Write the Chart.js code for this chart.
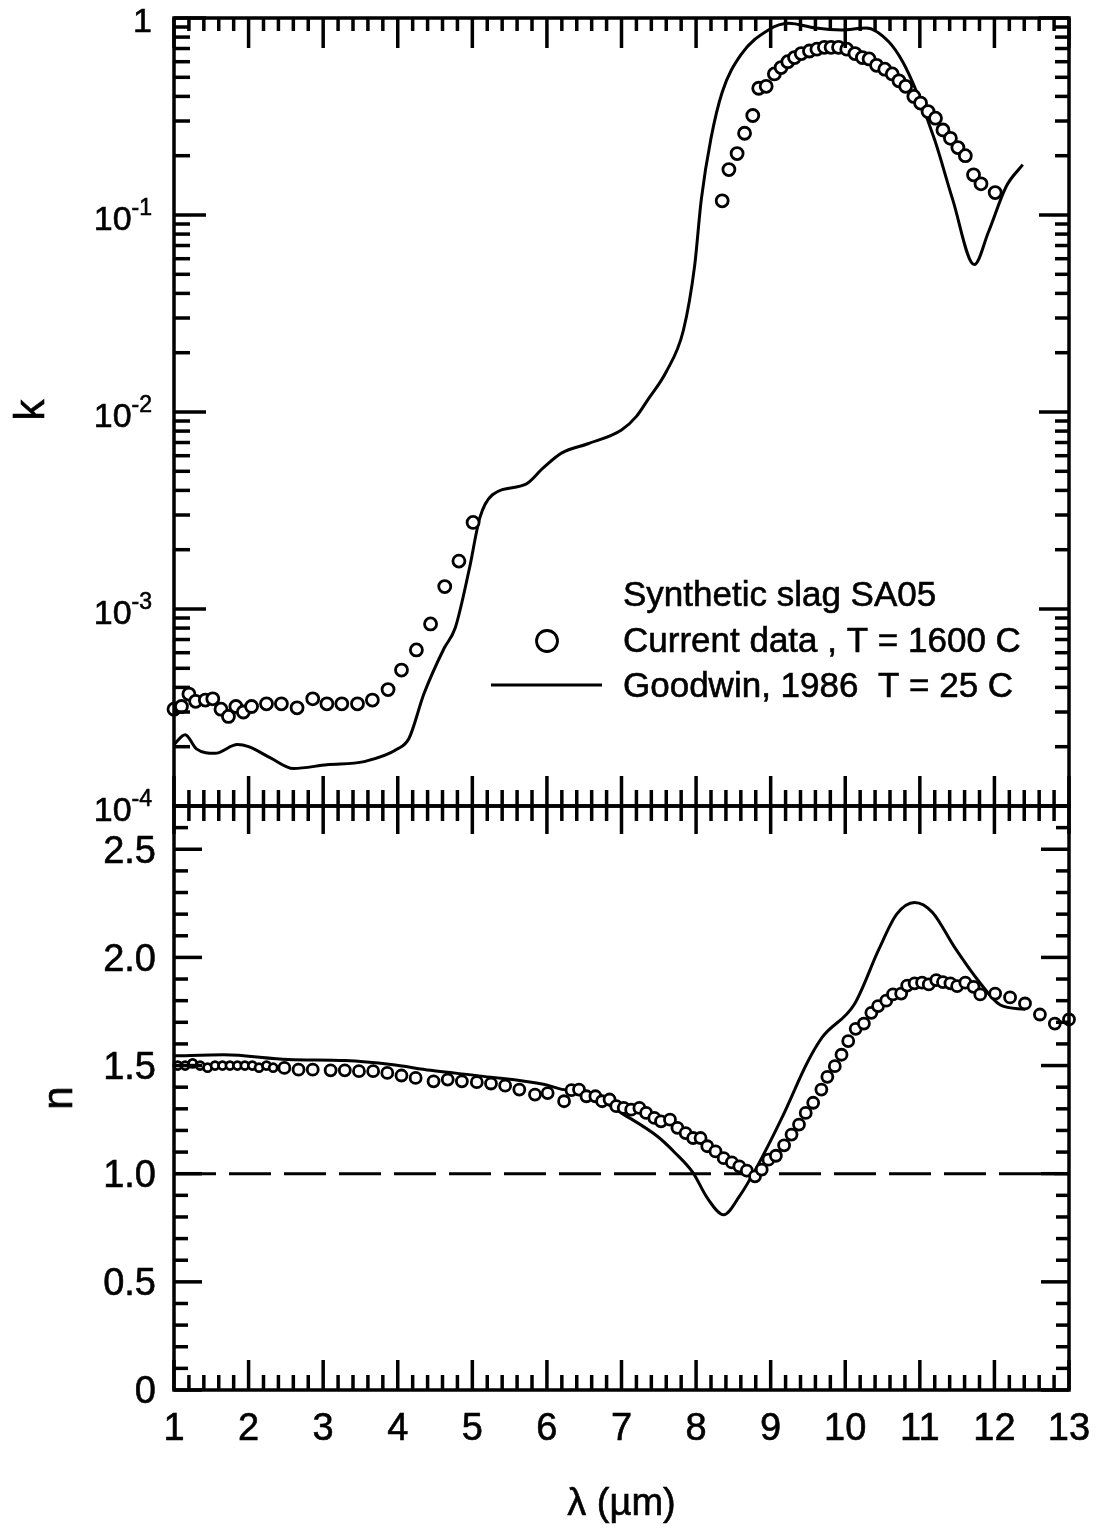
<!DOCTYPE html>
<html>
<head>
<meta charset="utf-8">
<title>Synthetic slag SA05 - optical constants</title>
<script src="https://cdn.jsdelivr.net/npm/chart.js@4.4.1/dist/chart.umd.min.js"></script>
<style>
  html, body { margin: 0; padding: 0; background: #fff; }
  #wrap { position: relative; width: 1111px; height: 1528px; }
  #wrap canvas { position: absolute; left: 0; top: 0; }
</style>
</head>
<body>
<div id="wrap">
  <canvas id="kChart" width="1111" height="1528"></canvas>
  <canvas id="nChart" width="1111" height="1528"></canvas>
</div>
<script>
// wavelength axis (um) and tick labels
const xTicks = [1, 2, 3, 4, 5, 6, 7, 8, 9, 10, 11, 12, 13];
const kTickExps = [0, -1, -2, -3, -4];
const nTicks = [0, 0.5, 1.0, 1.5, 2.0, 2.5];
const nTickLabels = ['0', '0.5', '1.0', '1.5', '2.0', '2.5'];
const legendLines = ['Synthetic slag SA05', 'Current data , T = 1600 C', 'Goodwin, 1986  T = 25 C'];

// k, current data (T = 1600 C)  [lambda, k]
const kCurrent = [
  [1.0, 3.1e-4], [1.1, 3.2e-4], [1.2, 3.7e-4], [1.29, 3.4e-4], [1.42, 3.45e-4], [1.52, 3.5e-4],
  [1.63, 3.1e-4], [1.73, 2.85e-4], [1.83, 3.2e-4], [1.93, 3.0e-4], [2.04, 3.2e-4], [2.24, 3.3e-4],
  [2.44, 3.3e-4], [2.65, 3.15e-4], [2.86, 3.5e-4], [3.05, 3.3e-4], [3.25, 3.3e-4], [3.46, 3.3e-4],
  [3.66, 3.45e-4], [3.87, 3.9e-4], [4.05, 4.9e-4], [4.25, 6.2e-4], [4.44, 8.4e-4], [4.63, 1.3e-3],
  [4.82, 1.75e-3], [5.01, 2.75e-3],
  [8.35, 0.118], [8.44, 0.17], [8.55, 0.205], [8.65, 0.26], [8.76, 0.32], [8.84, 0.44], [8.94, 0.45],
  [9.05, 0.52], [9.14, 0.56], [9.23, 0.60], [9.32, 0.63], [9.41, 0.66], [9.52, 0.68], [9.62, 0.695],
  [9.72, 0.71], [9.81, 0.71], [9.91, 0.71], [10.02, 0.695], [10.13, 0.66], [10.23, 0.63], [10.32, 0.62],
  [10.42, 0.575], [10.53, 0.55], [10.63, 0.52], [10.72, 0.48], [10.81, 0.45], [10.92, 0.40], [11.01, 0.37],
  [11.11, 0.335], [11.21, 0.31], [11.31, 0.27], [11.41, 0.245], [11.51, 0.22], [11.61, 0.20],
  [11.72, 0.16], [11.82, 0.144], [12.01, 0.13]
];

// k, Goodwin 1986 (T = 25 C)
const kGoodwin = [
  [1.0, 2.05e-4], [1.15, 2.3e-4], [1.3, 1.95e-4], [1.55, 1.85e-4], [1.85, 2.05e-4], [2.0, 2.0e-4],
  [2.3, 1.75e-4], [2.6, 1.55e-4], [3.05, 1.62e-4], [3.55, 1.68e-4], [4.0, 1.95e-4], [4.15, 2.2e-4],
  [4.35, 3.7e-4], [4.62, 6.3e-4], [4.77, 8.0e-4], [4.96, 1.6e-3], [5.1, 2.9e-3], [5.27, 3.8e-3],
  [5.72, 4.3e-3], [5.95, 5.2e-3], [6.2, 6.2e-3], [6.55, 6.9e-3], [7.0, 8.1e-3], [7.2, 9.5e-3],
  [7.35, 0.0115], [7.6, 0.016], [7.83, 0.026], [7.98, 0.055], [8.07, 0.12], [8.2, 0.245], [8.35, 0.42],
  [8.6, 0.65], [8.97, 0.87], [9.24, 0.94], [9.6, 0.89], [9.95, 0.87], [10.28, 0.89], [10.58, 0.76],
  [10.77, 0.60], [10.96, 0.42], [11.2, 0.24], [11.44, 0.12], [11.73, 0.056], [11.92, 0.082],
  [12.16, 0.14], [12.38, 0.18]
];

// n, current data
const nCurrent = [
  [1.05, 1.50], [1.15, 1.50], [1.25, 1.51], [1.35, 1.50], [1.45, 1.49], [1.55, 1.50], [1.65, 1.50],
  [1.75, 1.50], [1.85, 1.50], [1.95, 1.50], [2.05, 1.50], [2.14, 1.49], [2.24, 1.50], [2.33, 1.49],
  [2.48, 1.489], [2.67, 1.481], [2.86, 1.481], [3.1, 1.478], [3.29, 1.478], [3.48, 1.474], [3.67, 1.474],
  [3.86, 1.466], [4.05, 1.454], [4.24, 1.443], [4.48, 1.427], [4.67, 1.435], [4.86, 1.427], [5.06, 1.423],
  [5.25, 1.417], [5.44, 1.407], [5.63, 1.389], [5.84, 1.366], [6.01, 1.373], [6.23, 1.335], [6.33, 1.386],
  [6.43, 1.389], [6.53, 1.358], [6.65, 1.358], [6.74, 1.335], [6.84, 1.343], [6.93, 1.312], [7.03, 1.304],
  [7.13, 1.296], [7.24, 1.304], [7.33, 1.281], [7.44, 1.258], [7.53, 1.242], [7.65, 1.25], [7.75, 1.212],
  [7.86, 1.188], [7.96, 1.165], [8.06, 1.165], [8.15, 1.127], [8.26, 1.103], [8.37, 1.072], [8.48, 1.052],
  [8.58, 1.034], [8.68, 1.014], [8.79, 0.988], [8.88, 1.019], [8.97, 1.065], [9.07, 1.083], [9.18, 1.131],
  [9.28, 1.181], [9.38, 1.227], [9.47, 1.281], [9.57, 1.328], [9.68, 1.389], [9.76, 1.448], [9.86, 1.497],
  [9.95, 1.55], [10.04, 1.613], [10.14, 1.67], [10.25, 1.694], [10.35, 1.744], [10.44, 1.775], [10.55, 1.80],
  [10.64, 1.829], [10.75, 1.833], [10.83, 1.87], [10.93, 1.88], [11.03, 1.883], [11.12, 1.875],
  [11.22, 1.895], [11.31, 1.886], [11.41, 1.88], [11.5, 1.867], [11.61, 1.883], [11.72, 1.864],
  [11.81, 1.829], [12.01, 1.833], [12.21, 1.815], [12.41, 1.787], [12.61, 1.736], [12.81, 1.694], [13.0, 1.713]
];

// n, Goodwin 1986
const nGoodwin = [
  [1.0, 1.545], [1.67, 1.55], [2.53, 1.528], [3.29, 1.523], [3.91, 1.505], [4.44, 1.478], [5.15, 1.45],
  [5.97, 1.412], [6.2, 1.39], [6.53, 1.375], [7.0, 1.28], [7.48, 1.173], [7.72, 1.096], [7.96, 1.004],
  [8.15, 0.888], [8.37, 0.81], [8.58, 0.895], [8.82, 1.034], [9.16, 1.265], [9.49, 1.513], [9.69, 1.63],
  [10.12, 1.782], [10.45, 2.037], [10.69, 2.2], [10.93, 2.254], [11.17, 2.208], [11.46, 2.05],
  [11.79, 1.89], [12.08, 1.78], [12.41, 1.76]
];

// n = 1 reference line
const nUnity = [[1, 1.0], [13, 1.0]];

const FONT = '"Liberation Sans", Arial, Helvetica, sans-serif';
const toPts = arr => arr.map(p => ({ x: p[0], y: p[1] }));

function seg(ctx, x1, y1, x2, y2) {
  ctx.beginPath();
  ctx.moveTo(x1, y1);
  ctx.lineTo(x2, y2);
  ctx.stroke();
}

// slightly heavier text, like the printed original
function text(ctx, s, x, y) {
  ctx.fillText(s, x, y);
  ctx.strokeText(s, x, y);
}

// wavelength ticks every 0.2 um, pointing into the panel
function drawXTicks(ctx, xs, y, dir, majorLen, minorLen) {
  for (let i = 0; i <= 60; i++) {
    const px = xs.getPixelForValue(1 + i * 0.2);
    seg(ctx, px, y, px, y + dir * (i % 5 === 0 ? majorLen : minorLen));
  }
}

const kFrame = {
  id: 'kFrame',
  afterDraw(chart) {
    const { ctx, chartArea: a, scales: { x, y } } = chart;
    ctx.save();
    ctx.strokeStyle = '#000';
    ctx.fillStyle = '#000';
    ctx.lineWidth = 3.5;
    ctx.strokeRect(a.left, a.top, a.right - a.left, a.bottom - a.top);
    drawXTicks(ctx, x, a.top, 1, 30, 13);
    drawXTicks(ctx, x, a.bottom, -1, 30, 16);

    kTickExps.forEach(e => {
      const py = y.getPixelForValue(Math.pow(10, e));
      seg(ctx, a.left, py, a.left + 32, py);
      seg(ctx, a.right, py, a.right - 30, py);
      if (e > -4) {
        for (let m = 2; m <= 9; m++) {
          const pm = y.getPixelForValue(m * Math.pow(10, e - 1));
          seg(ctx, a.left, pm, a.left + 16, pm);
          seg(ctx, a.right, pm, a.right - 14, pm);
        }
      }
    });

    // decade labels 1, 10^-1 ...
    ctx.lineWidth = 0.6;
    ctx.textAlign = 'right';
    ctx.textBaseline = 'middle';
    kTickExps.forEach(e => {
      const py = y.getPixelForValue(Math.pow(10, e));
      const rx = a.left - 22;
      if (e === 0) {
        ctx.font = '34px ' + FONT;
        text(ctx, '1', rx, py + 5);
        return;
      }
      const sup = String(e);
      ctx.font = '23px ' + FONT;
      text(ctx, sup, rx, py - 6);
      const w = ctx.measureText(sup).width;
      ctx.font = '34px ' + FONT;
      text(ctx, '10', rx - w, py + 6);
    });

    ctx.save();
    ctx.translate(32, 410);
    ctx.rotate(-Math.PI / 2);
    ctx.textAlign = 'center';
    ctx.font = '42px ' + FONT;
    text(ctx, 'k', 0, 0);
    ctx.restore();

    // legend
    ctx.textAlign = 'left';
    ctx.textBaseline = 'alphabetic';
    ctx.font = '35px ' + FONT;
    text(ctx, legendLines[0], 623, 606);
    text(ctx, legendLines[1], 623, 652);
    text(ctx, legendLines[2], 623, 697);
    ctx.lineWidth = 2.8;
    ctx.beginPath();
    ctx.arc(547, 641, 10.5, 0, Math.PI * 2);
    ctx.stroke();
    ctx.lineWidth = 3;
    seg(ctx, 491, 685, 602, 685);
    ctx.restore();
  }
};

const nFrame = {
  id: 'nFrame',
  afterDraw(chart) {
    const { ctx, chartArea: a, scales: { x, y } } = chart;
    ctx.save();
    ctx.strokeStyle = '#000';
    ctx.fillStyle = '#000';
    ctx.lineWidth = 3.5;
    ctx.strokeRect(a.left, a.top, a.right - a.left, a.bottom - a.top);
    drawXTicks(ctx, x, a.top, 1, 28, 15);
    drawXTicks(ctx, x, a.bottom, -1, 30, 15);

    for (let i = 0; i <= 27; i++) {
      const py = y.getPixelForValue(i / 10);
      const major = i % 5 === 0;
      seg(ctx, a.left, py, a.left + (major ? 28 : 14), py);
      seg(ctx, a.right, py, a.right - (major ? 28 : 13), py);
    }

    ctx.lineWidth = 0.6;
    ctx.font = '38px ' + FONT;
    ctx.textAlign = 'right';
    ctx.textBaseline = 'middle';
    nTicks.forEach((v, i) => {
      text(ctx, nTickLabels[i], a.left - 18, y.getPixelForValue(v) + 3);
    });

    ctx.textAlign = 'center';
    xTicks.forEach(v => {
      text(ctx, String(v), x.getPixelForValue(v), a.bottom + 40);
    });

    ctx.font = '38px ' + FONT;
    text(ctx, '\u03bb (\u00b5m)', (a.left + a.right) / 2, 1505);

    ctx.save();
    ctx.translate(60, 1098);
    ctx.rotate(-Math.PI / 2);
    ctx.font = '42px ' + FONT;
    text(ctx, 'n', 0, 0);
    ctx.restore();
    ctx.restore();
  }
};

function panelOptions(padding, yScale) {
  return {
    responsive: false,
    animation: false,
    layout: { padding: padding },
    plugins: { legend: { display: false }, tooltip: { enabled: false } },
    scales: {
      x: { type: 'linear', min: 1, max: 13, display: false },
      y: yScale
    }
  };
}

const PLOT_LEFT = 174, PLOT_RIGHT = 1069, K_TOP = 18, SPLIT = 806, N_BOTTOM = 1390;

new Chart(document.getElementById('kChart').getContext('2d'), {
  type: 'scatter',
  data: {
    datasets: [
      {
        label: legendLines[1],
        data: toPts(kCurrent),
        showLine: false,
        pointStyle: 'circle',
        pointRadius: 6,
        pointBorderWidth: 2.8,
        pointBorderColor: '#000',
        pointBackgroundColor: '#fff',
        clip: false
      },
      {
        label: legendLines[2],
        data: toPts(kGoodwin),
        showLine: true,
        borderColor: '#000',
        borderWidth: 3,
        pointRadius: 0,
        tension: 0.4,
        cubicInterpolationMode: 'monotone',
        fill: false
      }
    ]
  },
  options: panelOptions(
    { left: PLOT_LEFT, right: 1111 - PLOT_RIGHT, top: K_TOP, bottom: 1528 - SPLIT },
    { type: 'logarithmic', min: 1e-4, max: 1, display: false }
  ),
  plugins: [kFrame]
});

new Chart(document.getElementById('nChart').getContext('2d'), {
  type: 'scatter',
  data: {
    datasets: [
      {
        label: legendLines[1],
        data: toPts(nCurrent),
        showLine: false,
        pointStyle: 'circle',
        pointRadius: ctx => (ctx.raw && ctx.raw.x < 2.4 ? 4 : 5.5),
        pointBorderWidth: 2.8,
        pointBorderColor: '#000',
        pointBackgroundColor: '#fff',
        clip: false
      },
      {
        label: legendLines[2],
        data: toPts(nGoodwin),
        showLine: true,
        borderColor: '#000',
        borderWidth: 3,
        pointRadius: 0,
        tension: 0.4,
        cubicInterpolationMode: 'monotone',
        fill: false
      },
      {
        label: 'n = 1',
        data: toPts(nUnity),
        showLine: true,
        borderColor: '#000',
        borderWidth: 3,
        borderDash: [42, 13],
        pointRadius: 0,
        fill: false
      }
    ]
  },
  options: panelOptions(
    { left: PLOT_LEFT, right: 1111 - PLOT_RIGHT, top: SPLIT, bottom: 1528 - N_BOTTOM },
    { type: 'linear', min: 0, max: 2.7, display: false }
  ),
  plugins: [nFrame]
});
</script>
</body>
</html>
